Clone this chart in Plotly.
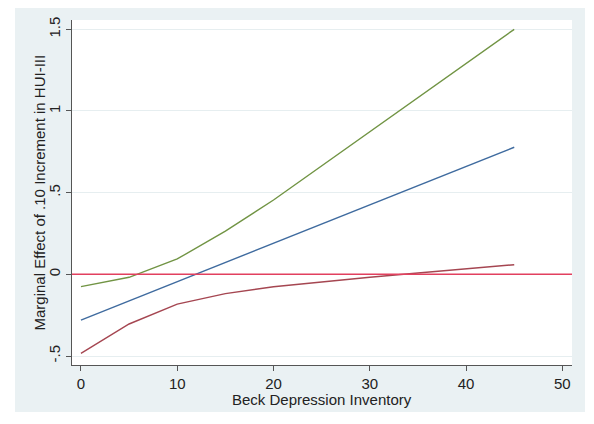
import plotly.graph_objects as go

bdi = [0, 5, 10, 15, 20, 25, 30, 35, 40, 45]
upper = [-0.075, -0.018, 0.094, 0.265, 0.455, 0.665, 0.873, 1.082, 1.291, 1.5]
effect = [-0.28, -0.162, -0.045, 0.073, 0.19, 0.308, 0.425, 0.543, 0.66, 0.778]
lower = [-0.484, -0.304, -0.182, -0.118, -0.076, -0.045, -0.018, 0.008, 0.034, 0.059]

y_ticks = [-0.5, 0, 0.5, 1, 1.5]
y_ticktext = ["-.5", "0", ".5", "1", "1.5"]
x_ticks = [0, 10, 20, 30, 40, 50]

x_title = "Beck Depression Inventory"
y_title = "Marginal Effect of .10 Increment in HUI-III"

font_family = "Liberation Sans, Arial, sans-serif"
bg = "#eaf1f3"

fig = go.Figure()
fig.add_trace(go.Scatter(x=bdi, y=effect, mode="lines", line=dict(color="#3f6b9f", width=1.4), showlegend=False))
fig.add_trace(go.Scatter(x=bdi, y=lower, mode="lines", line=dict(color="#a54651", width=1.4), showlegend=False))
fig.add_trace(go.Scatter(x=bdi, y=upper, mode="lines", line=dict(color="#719444", width=1.4), showlegend=False))

fig.add_hline(y=0, line=dict(color="#e2405f", width=1.5), layer="above")

# white page border outside the grey graph region
for (x0, x1, y0, y1) in [(-0.2, -0.114, -0.3, 1.2), (1.026, 1.1, -0.3, 1.2),
                         (-0.2, 1.1, -0.3, -0.136)]:
    fig.add_shape(type="rect", xref="paper", yref="paper", x0=x0, x1=x1, y0=y0, y1=y1,
                  fillcolor="white", line=dict(width=0), layer="below")

fig.add_annotation(text=x_title, xref="paper", yref="paper", x=0.5, y=-0.1,
                   xanchor="center", yanchor="middle", showarrow=False, font=dict(size=15))
fig.add_annotation(text=y_title, xref="paper", yref="paper", x=-0.066, y=0.5, textangle=-90,
                   xanchor="center", yanchor="middle", showarrow=False, font=dict(size=15))

fig.update_layout(
    template="none",
    width=594, height=424,
    margin=dict(l=64, r=30, t=12, b=67, pad=0),
    paper_bgcolor=bg,
    plot_bgcolor="white",
    font=dict(family=font_family, size=15, color="#222222"),
    xaxis=dict(
        range=[-0.93, 51.0], tickvals=x_ticks, showgrid=False, zeroline=False, automargin=False,
        showline=True, linecolor="#555555", linewidth=1, mirror=False,
        ticks="outside", ticklen=5, tickcolor="#555555", tickwidth=1,
        tickfont=dict(size=15),
    ),
    yaxis=dict(
        range=[-0.555, 1.557], tickvals=y_ticks, ticktext=y_ticktext, tickangle=-90,
        showgrid=True, gridcolor="#e6eef0", gridwidth=1, zeroline=False, automargin=False,
        showline=True, linecolor="#555555", linewidth=1, mirror=False,
        ticks="outside", ticklen=5, tickcolor="#555555", tickwidth=1,
        tickfont=dict(size=15),
    ),
)

fig.write_html("out.html")
